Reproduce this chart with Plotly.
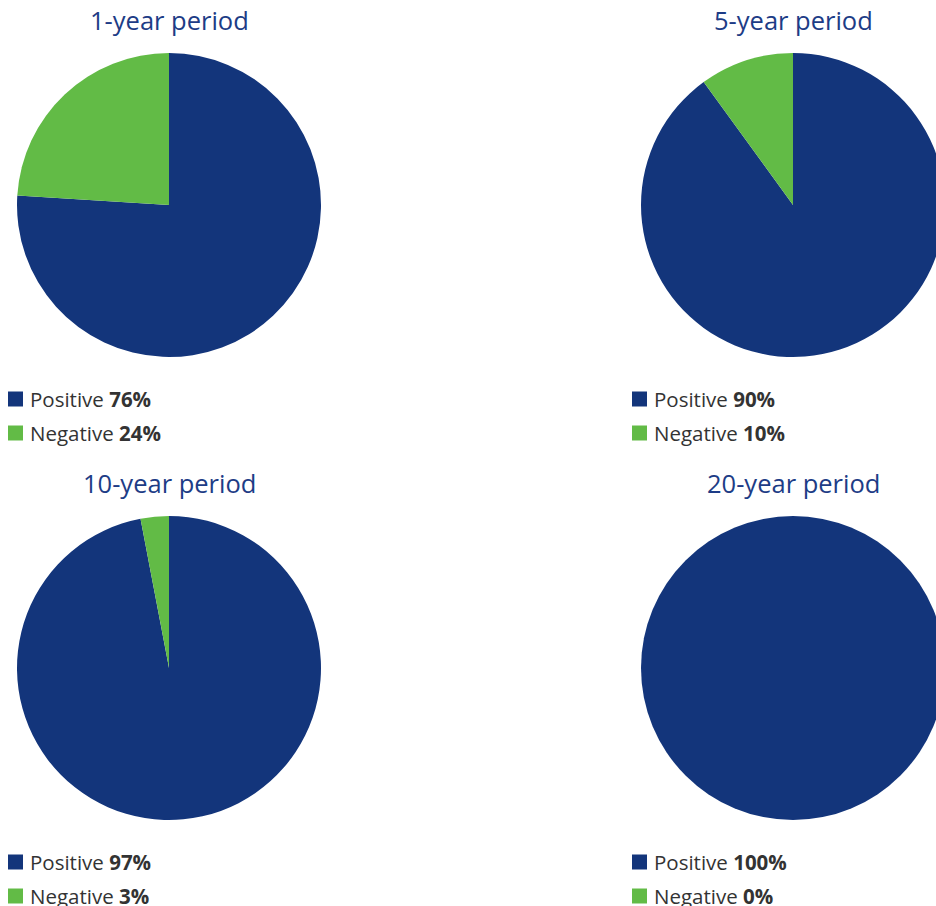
import plotly.graph_objects as go

titles = ["1-year period", "5-year period", "10-year period", "20-year period"]
labels = ["Positive", "Negative"]
positive = [76, 90, 97, 100]
negative = [24, 10, 3, 0]
colors = ["#13357b", "#62bb46"]

W, H = 945, 906   # figure slightly wider than the window so the right pies are cropped like the reference
centers = [(169, 205), (793, 205), (169, 668), (793, 668)]
R = 152
legend_x = [8, 632]

fig = go.Figure()
annotations = []
shapes = []
for i, (t, p, n) in enumerate(zip(titles, positive, negative)):
    cx, cy = centers[i]
    x0 = max(0, (cx - R) / W)
    x1 = min(1, (cx + R) / W)
    y0 = 1 - (cy + R) / H
    y1 = 1 - (cy - R) / H
    fig.add_trace(go.Pie(
        values=[p, n], labels=labels, sort=False, direction="clockwise",
        rotation=0, textinfo="none", showlegend=False,
        marker=dict(colors=colors, line=dict(width=0)),
        domain=dict(x=[x0, x1], y=[y0, y1]),
    ))
    annotations.append(dict(
        text=t, x=cx / W, y=1 - (cy - 185) / H, xref="paper", yref="paper",
        xanchor="center", yanchor="middle", showarrow=False,
        font=dict(family="Open Sans", size=25.5, color="#1d3c86"),
    ))
    lx = legend_x[i % 2]
    for j, (lab, val) in enumerate(zip(labels, [p, n])):
        ly = cy + 194 + 34 * j
        shapes.append(dict(
            type="rect", xref="paper", yref="paper",
            x0=lx / W, x1=(lx + 15) / W,
            y0=1 - (ly + 7.5) / H, y1=1 - (ly - 7.5) / H,
            fillcolor=colors[j], line=dict(width=0),
        ))
        annotations.append(dict(
            text=f"{lab} <b>{val}%</b>", x=(lx + 20) / W, y=1 - ly / H,
            xref="paper", yref="paper", xanchor="left", yanchor="middle",
            showarrow=False,
            font=dict(family="Open Sans", size=20.5, color="#333333"),
        ))

fig.update_layout(
    width=W, height=H, margin=dict(l=0, r=0, t=0, b=0),
    paper_bgcolor="white", plot_bgcolor="white",
    annotations=annotations, shapes=shapes,
)
fig.write_html("out.html")
